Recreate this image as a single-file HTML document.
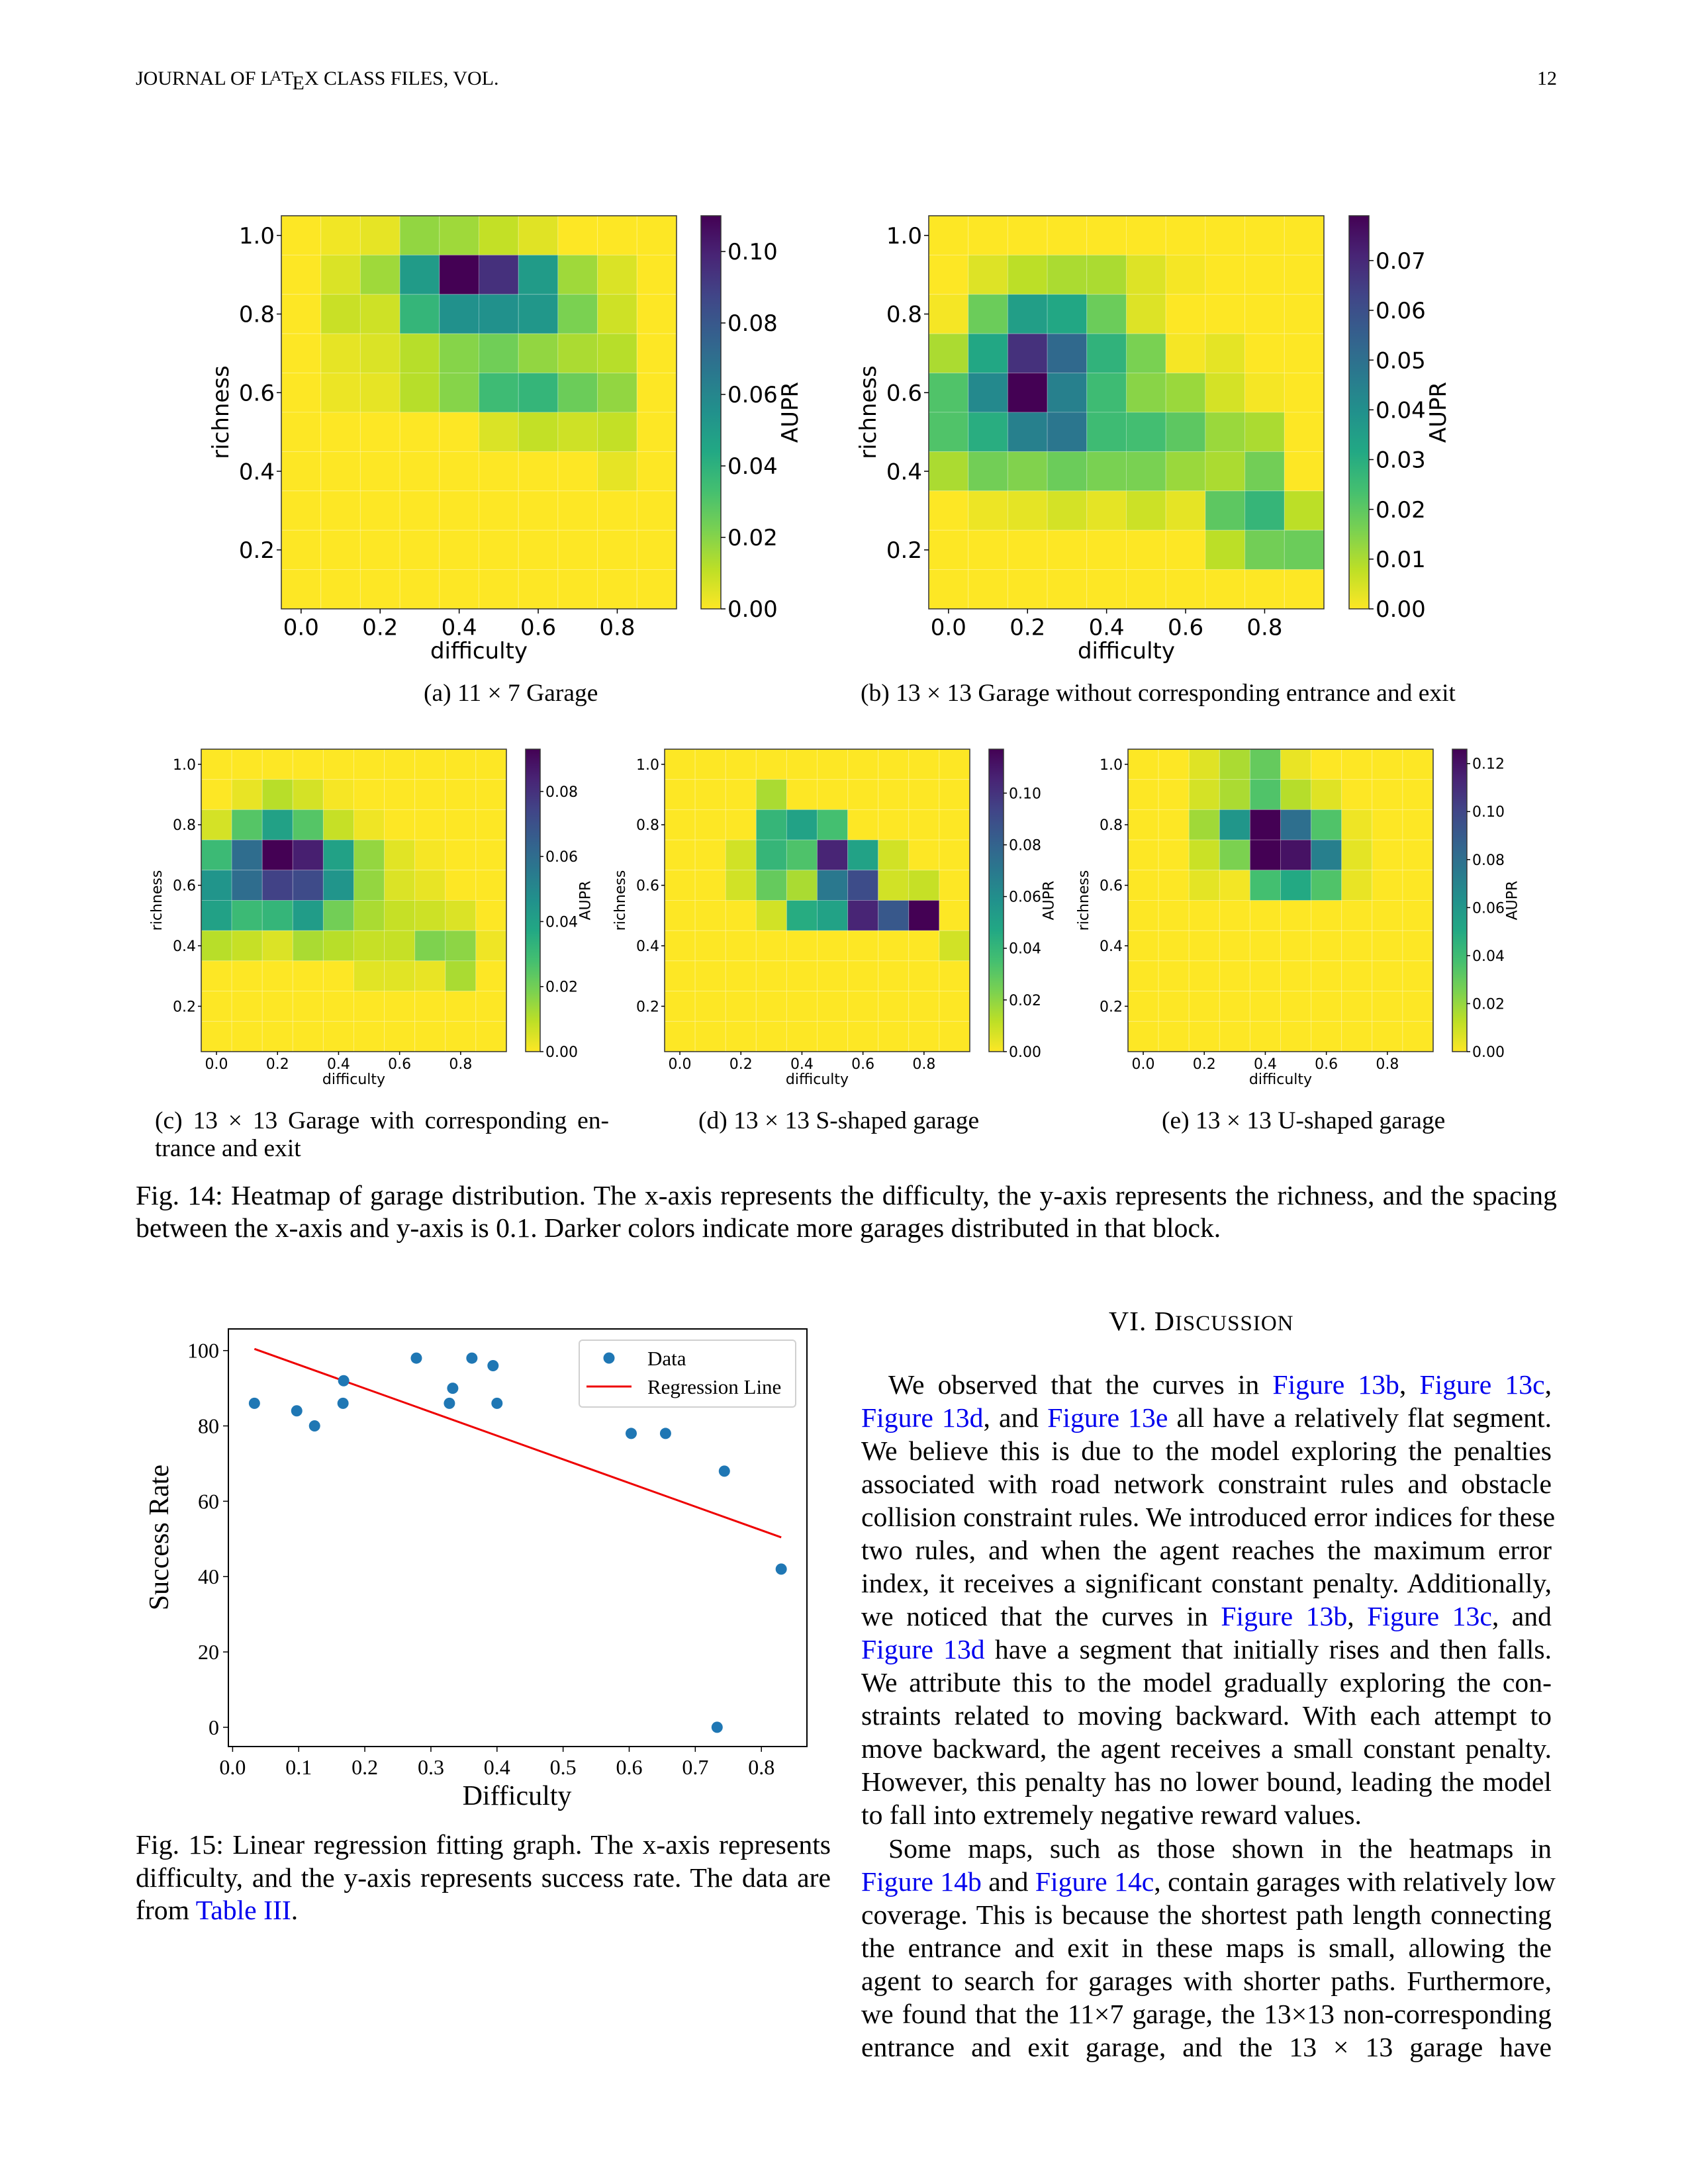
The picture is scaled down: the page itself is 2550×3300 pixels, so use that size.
<!DOCTYPE html>
<html><head><meta charset="utf-8">
<style>
html,body{margin:0;padding:0;background:#fff;}
#page{position:relative;width:2550px;height:3300px;overflow:hidden;background:#fff;font-family:"Liberation Serif",serif;color:#000;}
.t{position:absolute;white-space:nowrap;}
.ln{position:absolute;left:1301px;width:1043px;height:50px;line-height:50px;font-size:41.7px;text-align:justify;text-align-last:justify;white-space:nowrap;}
.ln.l{text-align:left;text-align-last:left;}
.lk{color:#0000ee;}
.cap{position:absolute;font-size:41.7px;line-height:50px;height:50px;text-align:justify;text-align-last:justify;white-space:nowrap;}
.sub{position:absolute;font-size:37.5px;line-height:44px;white-space:nowrap;}
svg{position:absolute;left:0;top:0;}
</style></head>
<body>
<div id="page">
<div class="t" style="left:205px;top:102px;font-size:30px;">JOURNAL OF L<span style="font-size:22px;position:relative;top:-6px;left:-3px">A</span><span style="margin-left:-3px">T</span><span style="position:relative;top:7px;margin-left:-2px">E</span>X CLASS FILES, VOL.</div>
<div class="t" style="left:2322px;top:102px;font-size:30px;">12</div>

<svg id="charts" width="2550" height="3300"></svg>

<div class="sub" style="left:640px;top:1026px;">(a) 11 × 7 Garage</div>
<div class="sub" style="left:1300px;top:1026px;">(b) 13 × 13 Garage without corresponding entrance and exit</div>
<div class="sub" style="left:234px;top:1672px;width:686px;text-align:justify;text-align-last:justify;">(c) 13 × 13 Garage with corresponding en-</div>
<div class="sub" style="left:234px;top:1714px;">trance and exit</div>
<div class="sub" style="left:1055px;top:1672px;">(d) 13 × 13 S-shaped garage</div>
<div class="sub" style="left:1755px;top:1672px;">(e) 13 × 13 U-shaped garage</div>

<div class="cap" style="left:205px;top:1782px;width:2147px;">Fig. 14: Heatmap of garage distribution. The x-axis represents the difficulty, the y-axis represents the richness, and the spacing</div>
<div class="cap" style="left:205px;top:1831px;width:2147px;text-align:left;text-align-last:left;">between the x-axis and y-axis is 0.1. Darker colors indicate more garages distributed in that block.</div>

<div class="cap" style="left:205px;top:2763px;width:1050px;">Fig. 15: Linear regression fitting graph. The x-axis represents</div>
<div class="cap" style="left:205px;top:2813px;width:1050px;">difficulty, and the y-axis represents success rate. The data are</div>
<div class="cap" style="left:205px;top:2862px;width:1050px;text-align:left;text-align-last:left;">from <span class="lk">Table III</span>.</div>

<div class="t" style="left:1675px;top:1972px;font-size:41.7px;line-height:50px;letter-spacing:1px;">VI. D<span style="font-size:33px">ISCUSSION</span></div>

<div>
<div class="ln" style="top:2068px;left:1342px;width:1002px;">We observed that the curves in <span class="lk">Figure 13b</span>, <span class="lk">Figure 13c</span>,</div>
<div class="ln" style="top:2118px;"><span class="lk">Figure 13d</span>, and <span class="lk">Figure 13e</span> all have a relatively flat segment.</div>
<div class="ln" style="top:2168px;">We believe this is due to the model exploring the penalties</div>
<div class="ln" style="top:2218px;">associated with road network constraint rules and obstacle</div>
<div class="ln" style="top:2268px;">collision constraint rules. We introduced error indices for these</div>
<div class="ln" style="top:2318px;">two rules, and when the agent reaches the maximum error</div>
<div class="ln" style="top:2368px;">index, it receives a significant constant penalty. Additionally,</div>
<div class="ln" style="top:2418px;">we noticed that the curves in <span class="lk">Figure 13b</span>, <span class="lk">Figure 13c</span>, and</div>
<div class="ln" style="top:2468px;"><span class="lk">Figure 13d</span> have a segment that initially rises and then falls.</div>
<div class="ln" style="top:2518px;">We attribute this to the model gradually exploring the con-</div>
<div class="ln" style="top:2568px;">straints related to moving backward. With each attempt to</div>
<div class="ln" style="top:2618px;">move backward, the agent receives a small constant penalty.</div>
<div class="ln" style="top:2668px;">However, this penalty has no lower bound, leading the model</div>
<div class="ln l" style="top:2718px;">to fall into extremely negative reward values.</div>
<div class="ln" style="top:2769px;left:1342px;width:1002px;">Some maps, such as those shown in the heatmaps in</div>
<div class="ln" style="top:2819px;"><span class="lk">Figure 14b</span> and <span class="lk">Figure 14c</span>, contain garages with relatively low</div>
<div class="ln" style="top:2869px;">coverage. This is because the shortest path length connecting</div>
<div class="ln" style="top:2919px;">the entrance and exit in these maps is small, allowing the</div>
<div class="ln" style="top:2969px;">agent to search for garages with shorter paths. Furthermore,</div>
<div class="ln" style="top:3019px;">we found that the 11×7 garage, the 13×13 non-corresponding</div>
<div class="ln" style="top:3069px;">entrance and exit garage, and the 13 × 13 garage have</div>
</div>
</div>

<script>
// ---- Heatmap data (rows: richness 1.0 down to 0.1; columns: difficulty 0.0..0.9) ----
const diffCats = [0.0,0.1,0.2,0.3,0.4,0.5,0.6,0.7,0.8,0.9];
const richCats = [1.0,0.9,0.8,0.7,0.6,0.5,0.4,0.3,0.2,0.1];
const heatTicksX = [0.0,0.2,0.4,0.6,0.8];
const heatTicksY = [0.2,0.4,0.6,0.8,1.0];

const gridA = [
 [0,.002,.004,.018,.016,.010,.005,0,0,0],
 [0,.006,.016,.05,.11,.095,.05,.016,.006,0],
 [0,.009,.008,.038,.055,.055,.052,.022,.008,0],
 [0,.004,.006,.012,.02,.024,.018,.014,.012,0],
 [0,.003,.004,.012,.02,.035,.038,.025,.018,0],
 [0,0,0,0,0,.006,.01,.008,.01,0],
 [0,0,0,0,0,0,0,0,.004,0],
 [0,0,0,0,0,0,0,0,0,0],
 [0,0,0,0,0,0,0,0,0,0],
 [0,0,0,0,0,0,0,0,0,0]];
const maxA = 0.11;
const cbTicksA = [0.00,0.02,0.04,0.06,0.08,0.10];

const gridB = [
 [0,0,0,0,0,0,0,0,0,0],
 [0,.004,.008,.01,.01,.004,.001,0,0,0],
 [.001,.018,.035,.032,.018,.004,0,0,0,0],
 [.01,.032,.068,.052,.028,.016,.001,.003,0,0],
 [.022,.042,.079,.045,.025,.014,.012,.005,.001,0],
 [.022,.03,.045,.048,.025,.024,.02,.012,.01,0],
 [.01,.017,.015,.018,.016,.016,.012,.01,.017,0],
 [0,.002,.003,.005,.003,.006,.003,.02,.027,.008],
 [0,0,0,0,0,0,0,.008,.017,.018],
 [0,0,0,0,0,0,0,0,0,0]];
const maxB = 0.079;
const cbTicksB = [0.00,0.01,0.02,0.03,0.04,0.05,0.06,0.07];

const gridC = [
 [0,0,0,0,0,0,0,0,0,0],
 [0,.003,.01,.006,.001,0,0,0,0,0],
 [.006,.025,.04,.025,.008,.002,0,0,0,0],
 [.03,.06,.093,.085,.04,.015,.004,.001,0,0],
 [.045,.06,.075,.072,.045,.015,.005,.003,0,0],
 [.04,.03,.032,.042,.02,.012,.008,.007,.005,0],
 [.01,.008,.005,.012,.01,.008,.008,.018,.016,.002],
 [0,0,0,0,0,.004,.004,.003,.012,0],
 [0,0,0,0,0,0,0,0,0,0],
 [0,0,0,0,0,0,0,0,0,0]];
const maxC = 0.093;
const cbTicksC = [0.00,0.02,0.04,0.06,0.08];

const gridD = [
 [0,0,0,0,0,0,0,0,0,0],
 [0,0,0,.015,0,0,0,0,0,0],
 [0,0,0,.04,.05,.035,0,0,0,0],
 [0,0,.008,.04,.033,.105,.05,.008,0,0],
 [0,0,.008,.028,.015,.07,.09,.008,.01,0],
 [0,0,0,.008,.045,.05,.105,.085,.117,0],
 [0,0,0,0,0,0,0,0,0,.008],
 [0,0,0,0,0,0,0,0,0,0],
 [0,0,0,0,0,0,0,0,0,0],
 [0,0,0,0,0,0,0,0,0,0]];
const maxD = 0.117;
const cbTicksD = [0.00,0.02,0.04,0.06,0.08,0.10];

const gridE = [
 [0,0,.006,.016,.03,.004,0,0,0,0],
 [0,0,.008,.016,.035,.014,.006,0,0,0],
 [0,0,.018,.06,.126,.08,.035,.003,0,0],
 [0,0,.01,.025,.126,.12,.072,.005,0,0],
 [0,0,.005,.002,.038,.05,.035,.004,0,0],
 [0,0,0,0,0,0,0,0,0,0],
 [0,0,0,0,0,0,0,0,0,0],
 [0,0,0,0,0,0,0,0,0,0],
 [0,0,0,0,0,0,0,0,0,0],
 [0,0,0,0,0,0,0,0,0,0]];
const maxE = 0.126;
const cbTicksE = [0.00,0.02,0.04,0.06,0.08,0.10,0.12];

// ---- Scatter data ----
const scatterX = [0.033,0.097,0.124,0.167,0.168,0.278,0.328,0.333,0.362,0.394,0.400,0.603,0.655,0.733,0.744,0.830];
const scatterY = [86,84,80,86,92,98,86,90,98,96,86,78,78,0,68,42];
const scatTicksX = [0.0,0.1,0.2,0.3,0.4,0.5,0.6,0.7,0.8];
const scatTicksY = [0,20,40,60,80,100];

const NS = "http://www.w3.org/2000/svg";
const svg = document.getElementById('charts');
function mk(tag, attrs, parent){
  const e = document.createElementNS(NS, tag);
  for (const k in attrs) e.setAttribute(k, attrs[k]);
  (parent||svg).appendChild(e);
  return e;
}
const VIR = ['#440154','#482475','#414487','#355f8d','#2a788e','#21918c','#22a884','#44bf70','#7ad151','#bddf26','#fde725'];
function hex2rgb(h){return [parseInt(h.substr(1,2),16),parseInt(h.substr(3,2),16),parseInt(h.substr(5,2),16)];}
function viridisR(t){ // t=0 -> yellow, 1 -> purple
  t = Math.max(0,Math.min(1,t));
  const s = (1-t)*10; const i = Math.min(9,Math.floor(s)); const f = s-i;
  const a = hex2rgb(VIR[i]), b = hex2rgb(VIR[i+1]);
  return 'rgb('+a.map((v,k)=>Math.round(v+(b[k]-v)*f)).join(',')+')';
}
let gradCount = 0;
function heatmap(name, grid, vmax, cbTicks, L, T, R, B, cbL, cbR, fs, tickLen, labelGap){
  const g = mk('g', {});
  
  
  const sx = v => L + (v + 0.05) / 1.0 * (R - L);
  const sy = v => B - (v - 0.05) / 1.0 * (B - T);
  for (let r = 0; r < richCats.length; r++){
    for (let c = 0; c < diffCats.length; c++){
      const x0 = sx(diffCats[c]-0.05), x1 = sx(diffCats[c]+0.05);
      const y0 = sy(richCats[r]+0.05), y1 = sy(richCats[r]-0.05);
      const cell = mk('rect', {x:x0, y:y0, width:x1-x0, height:y1-y0, fill:viridisR(grid[r][c]/vmax), stroke:'rgba(255,255,255,0.25)', 'stroke-width':1}, g);
      
      
    }
  }
  const fr = mk('rect', {x:L, y:T, width:R-L, height:B-T, fill:'none', stroke:'#333', 'stroke-width':1.5}, g);
  
  
  heatTicksX.forEach(v => {
    const x = sx(v);
    mk('line', {x1:x, y1:B, x2:x, y2:B+tickLen, stroke:'#000', 'stroke-width':1.5}, g);
    const t = mk('text', {x:x, y:B+tickLen+fs*0.95, 'font-size':fs, 'text-anchor':'middle', 'font-family':'DejaVu Sans, sans-serif'}, g);
    t.textContent = v.toFixed(1);
    
    
  });
  heatTicksY.forEach(v => {
    const y = sy(v);
    mk('line', {x1:L-tickLen, y1:y, x2:L, y2:y, stroke:'#000', 'stroke-width':1.5}, g);
    const t = mk('text', {x:L-tickLen-3, y:y+fs*0.36, 'font-size':fs, 'text-anchor':'end', 'font-family':'DejaVu Sans, sans-serif'}, g);
    t.textContent = v.toFixed(1);
    
    
  });
  const xl = mk('text', {x:(L+R)/2, y:B+tickLen+fs*2.0, 'font-size':fs, 'text-anchor':'middle', 'font-family':'DejaVu Sans, sans-serif'}, g);
  xl.textContent = 'difficulty';
  
  
  const ylx = L - labelGap, yly = (T+B)/2;
  const yl = mk('text', {x:ylx, y:yly, 'font-size':fs, 'text-anchor':'middle', 'font-family':'DejaVu Sans, sans-serif', transform:'rotate(-90 '+ylx+' '+yly+')'}, g);
  yl.textContent = 'richness';
  
  
  // colorbar
  const gid = 'cbg' + (gradCount++);
  const defs = mk('defs', {}, g);
  const lg = mk('linearGradient', {id:gid, x1:0, y1:1, x2:0, y2:0}, defs);
  for (let i = 0; i <= 20; i++){
    mk('stop', {offset:(i/20), 'stop-color':viridisR(i/20)}, lg);
  }
  const cb = mk('rect', {x:cbL, y:T, width:cbR-cbL, height:B-T, fill:'url(#'+gid+')', stroke:'#333', 'stroke-width':1.5}, g);
  
  
  const cy = v => B - v / vmax * (B - T);
  cbTicks.forEach(v => {
    const y = cy(v);
    mk('line', {x1:cbR, y1:y, x2:cbR+tickLen, y2:y, stroke:'#000', 'stroke-width':1.5}, g);
    const t = mk('text', {x:cbR+tickLen+3, y:y+fs*0.36, 'font-size':fs, 'font-family':'DejaVu Sans, sans-serif'}, g);
    t.textContent = v.toFixed(2);
    
    
  });
  const ax = cbR + tickLen + fs*3.2, ay = (T+B)/2;
  const at = mk('text', {x:ax, y:ay, 'font-size':fs, 'text-anchor':'middle', 'font-family':'DejaVu Sans, sans-serif', transform:'rotate(-90 '+ax+' '+ay+')'}, g);
  at.textContent = 'AUPR';
  
  
}

heatmap('heatmap-a', gridA, maxA, cbTicksA, 425, 326, 1022, 920, 1059, 1089, 34, 7, 80);
heatmap('heatmap-b', gridB, maxB, cbTicksB, 1403, 326, 2000, 920, 2038, 2068, 34, 7, 80);
heatmap('heatmap-c', gridC, maxC, cbTicksC, 304, 1132, 765, 1589, 794, 816, 22, 5, 60);
heatmap('heatmap-d', gridD, maxD, cbTicksD, 1004, 1132, 1465, 1589, 1494, 1516, 22, 5, 60);
heatmap('heatmap-e', gridE, maxE, cbTicksE, 1704, 1132, 2165, 1589, 2194, 2216, 22, 5, 60);

// ---- Scatter plot ----
(function(){
  const g = mk('g', {});
  
  
  const L=345, R=1219, T=2008, B=2639;
  const sx = v => 351.4 + v * 998.5;
  const sy = v => 2609.9 - v * 5.692;
  const fr = mk('rect', {x:L, y:T, width:R-L, height:B-T, fill:'none', stroke:'#000', 'stroke-width':2}, g);
  
  
  scatTicksX.forEach(v => {
    const x = sx(v);
    mk('line', {x1:x, y1:B, x2:x, y2:B+8, stroke:'#000', 'stroke-width':1.5}, g);
    const t = mk('text', {x:x, y:B+42, 'font-size':32, 'text-anchor':'middle', 'font-family':'Liberation Serif, serif'}, g);
    t.textContent = v.toFixed(1);
    
    
  });
  scatTicksY.forEach(v => {
    const y = sy(v);
    mk('line', {x1:L-8, y1:y, x2:L, y2:y, stroke:'#000', 'stroke-width':1.5}, g);
    const t = mk('text', {x:L-14, y:y+11, 'font-size':32, 'text-anchor':'end', 'font-family':'Liberation Serif, serif'}, g);
    t.textContent = String(v);
    
    
  });
  const xl = mk('text', {x:781, y:2727, 'font-size':42, 'text-anchor':'middle', 'font-family':'Liberation Serif, serif'}, g);
  xl.textContent = 'Difficulty';
  
  
  const yl = mk('text', {x:254, y:2323, 'font-size':42, 'text-anchor':'middle', 'font-family':'Liberation Serif, serif', transform:'rotate(-90 254 2323)'}, g);
  yl.textContent = 'Success Rate';
  
  
  // least-squares regression from data
  const n = scatterX.length;
  const mx = scatterX.reduce((a,b)=>a+b,0)/n, my = scatterY.reduce((a,b)=>a+b,0)/n;
  let num=0, den=0;
  for (let i=0;i<n;i++){ num += (scatterX[i]-mx)*(scatterY[i]-my); den += (scatterX[i]-mx)**2; }
  const slope = num/den, icpt = my - slope*mx;
  const xmin = Math.min(...scatterX), xmax = Math.max(...scatterX);
  const rl = mk('line', {x1:sx(xmin), y1:sy(icpt+slope*xmin), x2:sx(xmax), y2:sy(icpt+slope*xmax), stroke:'#ee0000', 'stroke-width':3}, g);
  
  
  for (let i=0;i<n;i++){
    const c = mk('circle', {cx:sx(scatterX[i]), cy:sy(scatterY[i]), r:8.5, fill:'#1f77b4'}, g);
    
    
  }
  // legend
  const lg = mk('g', {}, g);
  
  
  mk('rect', {x:875, y:2025, width:327, height:101, rx:5, fill:'#fff', stroke:'#d0d0d0', 'stroke-width':2}, lg);
  const lm = mk('circle', {cx:920, cy:2052, r:8.5, fill:'#1f77b4'}, lg);
  
  
  const lt1 = mk('text', {x:978, y:2063, 'font-size':31, 'font-family':'Liberation Serif, serif'}, lg);
  lt1.textContent = 'Data';
  
  
  mk('line', {x1:886, y1:2095, x2:954, y2:2095, stroke:'#ee0000', 'stroke-width':3}, lg);
  const lt2 = mk('text', {x:978, y:2106, 'font-size':31, 'font-family':'Liberation Serif, serif'}, lg);
  lt2.textContent = 'Regression Line';
  
  
})();
</script>
</body></html>
